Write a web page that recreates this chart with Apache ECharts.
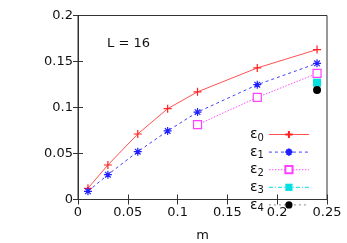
<!DOCTYPE html>
<html><head><meta charset="utf-8">
<script src="https://cdn.jsdelivr.net/npm/echarts@6/dist/echarts.min.js"></script>
<style>html,body{margin:0;padding:0;background:#fff}#c{width:347px;height:243px}</style>
</head><body><div id="c"></div>
<script>
const xTicks = [0, 0.05, 0.1, 0.15, 0.2, 0.25];
const yTicks = [0, 0.05, 0.1, 0.15, 0.2];
const mVals = [0.01, 0.03, 0.06, 0.09, 0.12, 0.18, 0.24];
const eps0 = [0.0122, 0.0375, 0.0712, 0.0987, 0.117, 0.143, 0.163];
const eps1 = [0.0089, 0.027, 0.052, 0.0745, 0.095, 0.1248, 0.148];
const eps2M = [0.12, 0.18, 0.24];
const eps2 = [0.0813, 0.111, 0.137];
const eps3M = [0.24];
const eps3 = [0.127];
const eps4M = [0.24];
const eps4 = [0.119];
const names = ['e0','e1','e2','e3','e4'];
const label = 'L = 16';

const pair = (xs, ys) => xs.map((x, i) => [x, ys[i]]);
const FONT = 'DejaVu Sans';
const plusPath = 'path://M0,5L10,5M5,0L5,10';
const starPath = 'path://M0,5L10,5M5,0L5,10M1.5,1.5L8.5,8.5M1.5,8.5L8.5,1.5';
const AX = '#333';

const chart = echarts.init(document.getElementById('c'));
chart.setOption({
  animation: false,
  grid: {left: 78, right: 20, top: 15.5, bottom: 43.5, outerBoundsMode: 'none',
    show: true, borderColor: AX, borderWidth: 1},
  xAxis: [
    {type: 'value', min: xTicks[0], max: xTicks[xTicks.length-1], interval: 0.05,
      name: 'm', nameLocation: 'middle', nameGap: 30,
      nameTextStyle: {fontFamily: FONT, fontSize: 13, color: '#111'},
      axisLine: {show: true, lineStyle: {color: AX, width: 1}},
      axisTick: {show: true, inside: true, length: 5, lineStyle: {color: AX}},
      splitLine: {show: false},
      axisLabel: {fontFamily: FONT, fontSize: 13, color: '#111', margin: 7}},
    {type: 'value', position: 'top', min: xTicks[0], max: xTicks[xTicks.length-1], interval: 0.05,
      axisLine: {show: true, lineStyle: {color: AX, width: 1}},
      axisTick: {show: true, inside: true, length: 5, lineStyle: {color: AX}},
      splitLine: {show: false}, axisLabel: {show: false}}
  ],
  yAxis: [
    {type: 'value', min: yTicks[0], max: yTicks[yTicks.length-1], interval: 0.05,
      axisLine: {show: true, lineStyle: {color: AX, width: 1}},
      axisTick: {show: true, inside: true, length: 5, lineStyle: {color: AX}},
      splitLine: {show: false},
      axisLabel: {fontFamily: FONT, fontSize: 13, color: '#111', margin: 5}},
    {type: 'value', position: 'right', min: yTicks[0], max: yTicks[yTicks.length-1], interval: 0.05,
      axisLine: {show: true, lineStyle: {color: AX, width: 1}},
      axisTick: {show: true, inside: true, length: 5, lineStyle: {color: AX}},
      splitLine: {show: false}, axisLabel: {show: false}}
  ],
  legend: {
    left: 250, top: 126, orient: 'vertical', align: 'right',
    itemWidth: 40, itemHeight: 9, itemGap: 0.6, padding: 0,
    lineStyle: {width: 1},
    data: names,
    formatter: s => '{a|ε}{b|' + s.slice(1) + '}',
    textStyle: {fontFamily: FONT, fontSize: 14, color: '#111',
      rich: {a: {fontSize: 14, fontFamily: FONT, color: '#111', lineHeight: 13},
             b: {fontSize: 10, fontFamily: FONT, color: '#111', lineHeight: 13, padding: [7, 0, 0, 0]}}}
  },
  graphic: [{type: 'text', left: 107, top: 37, style: {text: label, font: '13px "DejaVu Sans"', fill: '#111'}}],
  series: [
    {name: 'e0', type: 'line', data: pair(mVals, eps0), symbol: plusPath, symbolSize: 8,
      lineStyle: {color: '#ff5050', width: 1, type: 'solid'},
      itemStyle: {color: 'rgba(0,0,0,0)', borderColor: '#ff2020', borderWidth: 1.2}},
    {name: 'e1', type: 'line', data: pair(mVals, eps1), symbol: starPath, symbolSize: 8,
      lineStyle: {color: '#4040ff', width: 1, type: [3, 3]},
      itemStyle: {color: 'rgba(0,0,0,0)', borderColor: '#2020ff', borderWidth: 1.2}},
    {name: 'e2', type: 'line', data: pair(eps2M, eps2), symbol: 'rect', symbolSize: 8,
      lineStyle: {color: '#ff50ff', width: 1, type: [1.5, 1.5]},
      itemStyle: {color: '#fff', borderColor: '#ff40ff', borderWidth: 1.2}},
    {name: 'e3', type: 'line', xAxisIndex: 1, yAxisIndex: 1, data: pair(eps3M, eps3), symbol: 'rect', symbolSize: 8,
      lineStyle: {color: '#00e0e0', width: 1, type: [4, 2, 1, 2]},
      itemStyle: {color: '#00e0e0', borderColor: '#00e0e0', borderWidth: 0}},
    {name: 'e4', type: 'line', xAxisIndex: 1, yAxisIndex: 1, data: pair(eps4M, eps4), symbol: 'circle', symbolSize: 8,
      lineStyle: {color: '#888', width: 1, type: [2, 3]},
      itemStyle: {color: '#000', borderColor: '#000', borderWidth: 0}}
  ]
});
</script></body></html>
